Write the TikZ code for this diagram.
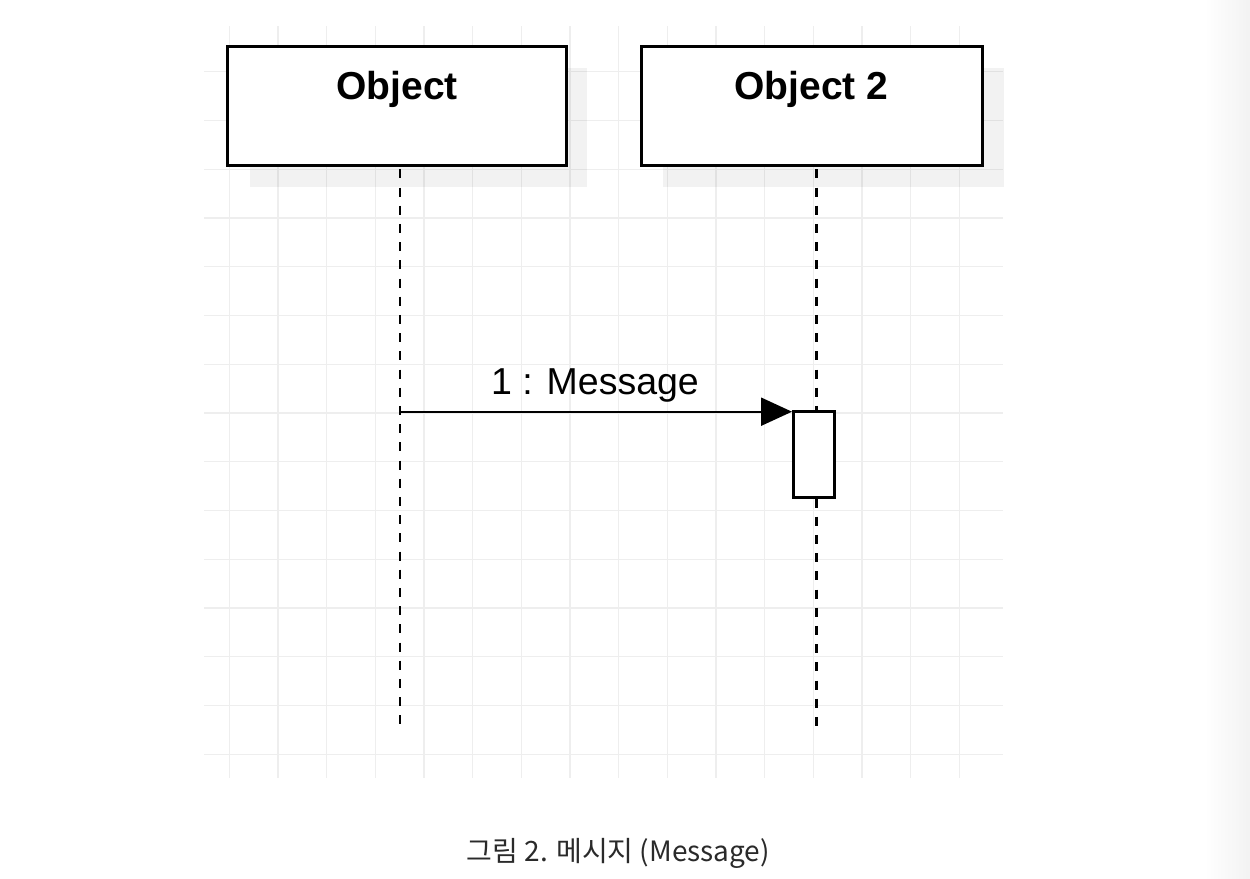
\documentclass[tikz,border=0pt]{standalone}
\usepackage{fontspec}
\setmainfont{Liberation Sans}
\newfontfamily\krfont{Noto Sans CJK KR}
\usetikzlibrary{arrows.meta}
\definecolor{gridgray}{HTML}{EEEEEE}
\definecolor{captiongray}{HTML}{2A2A2A}
\begin{document}
\begin{tikzpicture}[x=1pt,y=-1pt,
  gridline/.style={draw=gridgray, line width=1.3pt},
  shadowbox/.style={fill=black, fill opacity=0.05, draw=none},
  objbox/.style={draw=black, line width=2.8pt, fill=white, rectangle, inner sep=0pt, outer sep=0pt},
  actbox/.style={draw=black, line width=2.5pt, fill=white, rectangle, inner sep=0pt, outer sep=0pt,
    minimum width=41pt, minimum height=85.6pt},
  lifeline/.style={line width=2.8pt, dash pattern=on 9pt off 9.2pt},
  objtext/.style={font=\bfseries\fontsize{39}{44}\selectfont, anchor=base, inner sep=0pt},
  msgtext/.style={font=\fontsize{37.5}{42}\selectfont, anchor=base, inner sep=0pt},
  msgarrow/.style={line width=2.2pt, -{Triangle[length=31pt,width=28pt]}}]
\useasboundingbox (0,0) rectangle (1250,878);
\fill[white] (0,0) rectangle (1250,878);
\shade[left color=white, right color=gray!10] (1205,0) rectangle (1250,878);
% grid
\foreach \i in {0,...,15} \draw[gridline] ({229.3+\i*48.67},26) -- ({229.3+\i*48.67},778);
\foreach \j in {0,...,14} \draw[gridline] (204,{71.7+\j*48.75}) -- (1003,{71.7+\j*48.75});
% shadows
\fill[shadowbox] (250,68.3) rectangle (586.7,186.7);
\fill[shadowbox] (663.3,68.3) rectangle (1003.5,186.7);
% object boxes
\node[objbox, minimum width=339.4pt, minimum height=119pt] (obj1) at (397,106.2) {};
\node[objbox, minimum width=341pt, minimum height=119pt] (obj2) at (812.2,106.2) {};
\node[objtext] (t1) at (397,99.5) {Object};
\node[objtext] (t2) at (811.5,99.5) {Object 2};
% activation box
\node[actbox] (act) at (813.8,454.5) {};
% lifelines
\coordinate (l1top) at (400,169.3);
\coordinate (l1end) at (400,727);
\coordinate (l2top) at (816.7,169.3);
\coordinate (l2mid) at (816.7,410.5);
\coordinate (l2low) at (816.7,498.5);
\coordinate (l2end) at (816.7,727);
\draw[lifeline] (l1top) -- (l1end);
\draw[lifeline] (l2top) -- (l2mid);
\draw[lifeline] (l2low) -- (l2end);
% message
\coordinate (msgstart) at (400,411.7);
\coordinate (msgend) at ([xshift=-1.3pt]act.west |- msgstart);
\draw[msgarrow] (msgstart) -- (msgend);
\node[msgtext] (msg) at (595,394.5) {1 : Message};
% caption
\node[font=\krfont\fontsize{28}{33}\selectfont, text=captiongray, anchor=base, inner sep=0pt] (cap) at (618.4,861) {그림 2. 메시지 (Message)};
\end{tikzpicture}
\end{document}
